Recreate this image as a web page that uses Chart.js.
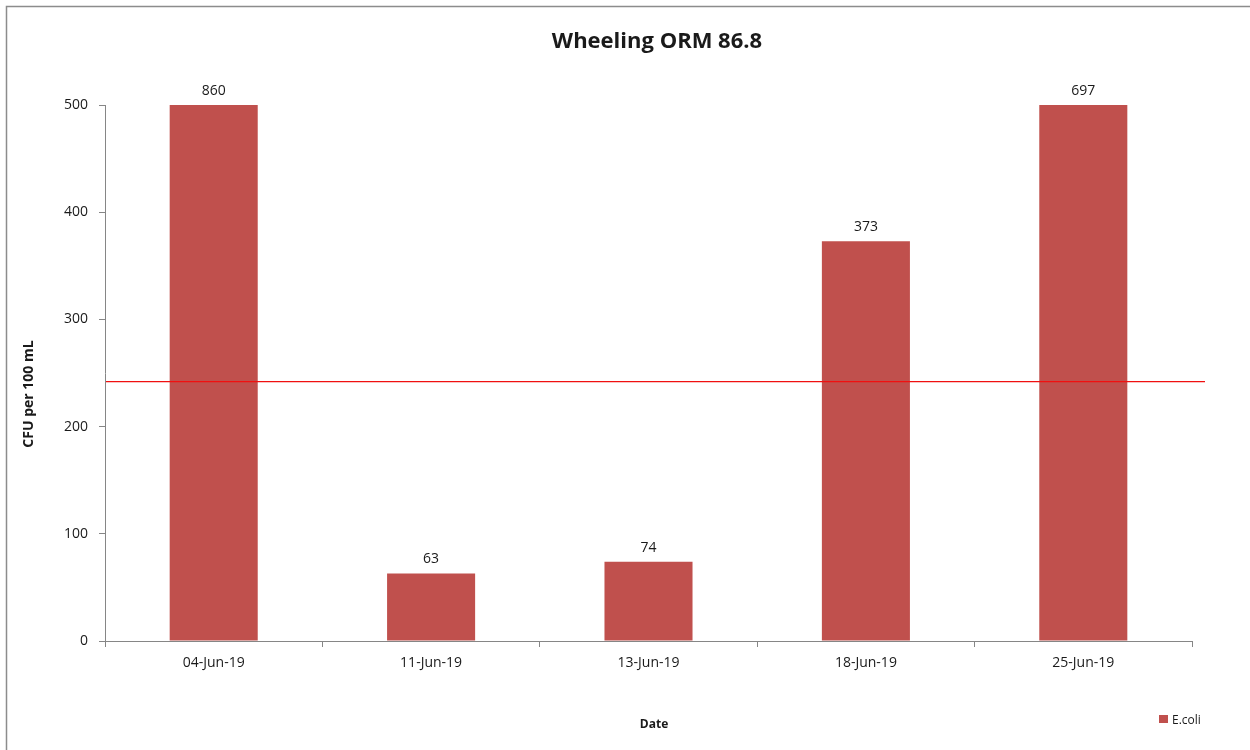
<!DOCTYPE html>
<html>
<head>
<meta charset="utf-8">
<script src="https://cdn.jsdelivr.net/npm/chart.js@4/dist/chart.umd.min.js"></script>
<style>
html,body{margin:0;padding:0;background:#fff;}
#wrap{position:absolute;left:0;top:0;width:1250px;height:750px;}
</style>
</head>
<body>
<div id="wrap"><canvas id="c" width="1250" height="750"></canvas></div>
<script>
const chartTitle = "Wheeling ORM 86.8";
const dates = ["04-Jun-19", "11-Jun-19", "13-Jun-19", "18-Jun-19", "25-Jun-19"];
const ecoli = [860, 63, 74, 373, 697];
const seriesName = "E.coli";
const threshold = [242];
const yTicks = [0, 100, 200, 300, 400, 500];
const xTitle = "Date";
const yTitle = "CFU per 100 mL";

const FONT = "'Open Sans', Carlito, Lato, sans-serif";
const barColor = "#C0504D";
const axisColor = "#868686";
const textColor = "#1a1a1a";

const extras = {
  id: "extras",
  beforeDraw(chart) {
    const ctx = chart.ctx;
    ctx.save();
    ctx.fillStyle = "#fff";
    ctx.fillRect(0, 0, chart.width, chart.height);
    ctx.strokeStyle = "#8c8c8c";
    ctx.lineWidth = 1.5;
    ctx.beginPath();
    ctx.moveTo(6.5, chart.height);
    ctx.lineTo(6.5, 6.5);
    ctx.lineTo(chart.width, 6.5);
    ctx.stroke();
    ctx.restore();
  },
  afterDraw(chart) {
    const ctx = chart.ctx;
    const ca = chart.chartArea;
    const ys = chart.scales.y;
    const meta = chart.getDatasetMeta(0);
    ctx.save();
    threshold.forEach(v => {
      const y = ys.getPixelForValue(v);
      ctx.strokeStyle = "#F01010";
      ctx.lineWidth = 1.3;
      ctx.beginPath();
      ctx.moveTo(ca.left + 1, y);
      ctx.lineTo(ca.right + 13, y);
      ctx.stroke();
    });
    ctx.fillStyle = textColor;
    ctx.font = "14px " + FONT;
    ctx.textAlign = "center";
    ctx.textBaseline = "alphabetic";
    meta.data.forEach((bar, i) => {
      const top = Math.max(bar.y, ca.top);
      ctx.fillText(String(ecoli[i]), bar.x, top - 10);
    });
    ctx.font = "bold 22px " + FONT;
    ctx.fillText(chartTitle, 657, 48);
    ctx.font = "bold 12px " + FONT;
    ctx.fillText(xTitle, 654, 728);
    ctx.save();
    ctx.translate(33, 394);
    ctx.rotate(-Math.PI / 2);
    ctx.font = "bold 14px " + FONT;
    ctx.fillText(yTitle, 0, 0);
    ctx.restore();
    ctx.fillStyle = barColor;
    ctx.fillRect(1159, 715, 9, 8);
    ctx.fillStyle = textColor;
    ctx.font = "12px " + FONT;
    ctx.textAlign = "left";
    ctx.fillText(seriesName, 1172, 724);
    ctx.restore();
  }
};

new Chart(document.getElementById("c"), {
  type: "bar",
  data: {
    labels: dates,
    datasets: [{
      label: seriesName,
      data: ecoli,
      backgroundColor: barColor,
      borderWidth: 0,
      barPercentage: 0.405,
      categoryPercentage: 1.0
    }]
  },
  options: {
    responsive: false,
    animation: false,
    devicePixelRatio: 1,
    layout: { padding: { top: 105, right: 58, bottom: 0, left: 0 } },
    plugins: { legend: { display: false }, title: { display: false }, tooltip: { enabled: false } },
    scales: {
      x: {
        offset: true,
        afterFit(s) { s.height = 109; },
        grid: { display: true, drawOnChartArea: false, drawTicks: true, tickLength: 6, color: axisColor, offset: true },
        border: { display: true, color: axisColor, width: 1 },
        ticks: { color: textColor, font: { family: FONT, size: 14 }, padding: 8, maxRotation: 0 }
      },
      y: {
        min: 0,
        max: yTicks[yTicks.length - 1],
        afterFit(s) { s.width = 105; },
        afterBuildTicks(s) { s.ticks = yTicks.map(v => ({ value: v })); },
        grid: { display: true, drawOnChartArea: false, drawTicks: true, tickLength: 6, color: axisColor },
        border: { display: true, color: axisColor, width: 1 },
        ticks: { color: textColor, font: { family: FONT, size: 14 }, padding: 11 }
      }
    }
  },
  plugins: [extras]
});
</script>
</body>
</html>
